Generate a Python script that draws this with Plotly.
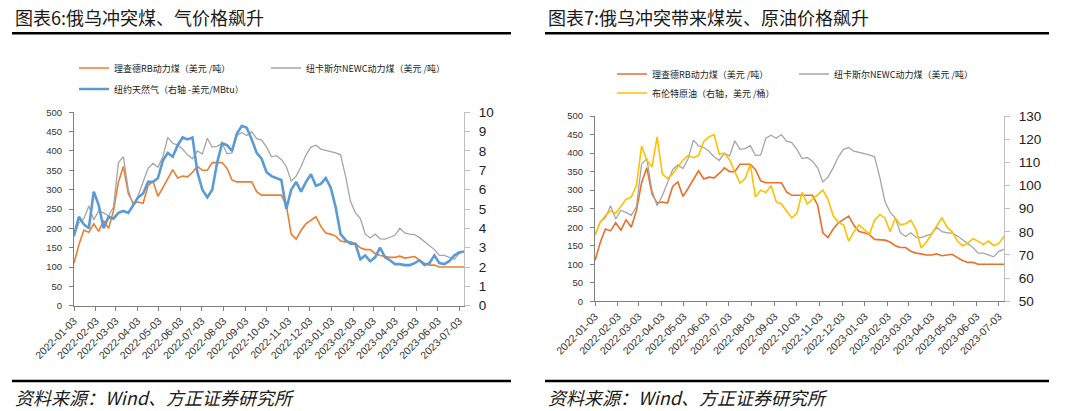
import pandas as pd
import plotly.graph_objects as go

# ---------------- data ----------------
dates = pd.date_range("2022-01-03", periods=80, freq="7D")
tick_dates = [d + pd.Timedelta(days=2) for d in pd.date_range("2022-01-01", "2023-07-01", freq="MS")]
tick_labels = [d.strftime("%Y-%m-%d") for d in tick_dates]

rb_coal = [110, 158, 195, 190, 212, 192, 220, 200, 245, 320,
           360, 290, 265, 268, 265, 310, 322, 283, 305, 330,
           352, 330, 335, 333, 345, 360, 350, 350, 370, 370,
           370, 355, 325, 320, 320, 320, 320, 295, 286, 286,
           286, 286, 286, 260, 185, 172, 195, 212, 220, 230,
           205, 188, 185, 180, 167, 165, 165, 160, 150, 145,
           145, 135, 130, 128, 125, 125, 128, 123, 125, 127,
           118, 110, 105, 105, 100, 100, 100, 100, 100, 100]

newc_coal = [178, 215, 225, 258, 222, 245, 240, 232, 255, 370,
             385, 300, 258, 285, 320, 355, 368, 358, 385, 435,
             420, 415, 405, 390, 380, 400, 392, 433, 410, 412,
             420, 393, 395, 440, 448, 440, 450, 432, 428, 410,
             385, 388, 378, 360, 322, 335, 360, 390, 410, 415,
             405, 402, 400, 395, 390, 335, 270, 240, 225, 185,
             175, 185, 173, 172, 177, 182, 200, 188, 185, 184,
             176, 166, 155, 145, 130, 130, 125, 120, 135, 140]

ny_gas = [3.65, 4.6, 4.2, 4.0, 5.9, 5.2, 4.0, 4.6, 4.5, 4.8,
          4.9, 4.8, 5.2, 5.6, 5.8, 6.4, 6.4, 6.6, 7.5, 7.9,
          7.7, 8.3, 8.7, 8.6, 8.7, 6.9, 6.0, 5.6, 6.0, 7.4,
          8.4, 8.3, 8.0, 8.9, 9.3, 9.2, 8.6, 7.9, 7.6, 6.9,
          6.7, 6.6, 6.5, 5.0, 6.0, 6.4, 5.9, 6.4, 6.8, 6.2,
          6.3, 6.6, 6.1, 5.1, 3.7, 3.4, 3.2, 3.2, 2.4, 2.6,
          2.3, 2.5, 3.0, 2.5, 2.35, 2.15, 2.15, 2.1, 2.1, 2.2,
          2.35, 2.1, 2.2, 2.6, 2.2, 2.15, 2.3, 2.6, 2.75, 2.8]

brent = [78.6, 84, 87, 89, 88, 91, 94, 95, 100, 117,
         111, 108, 121, 105, 103, 105, 108, 111, 113, 112,
         113, 119, 121, 122, 113.5, 114, 111, 106, 101, 103,
         109, 95, 98, 97, 100, 93, 92, 89, 86, 88,
         97, 92, 94, 96, 98, 94, 87, 84, 83, 76,
         80, 83, 81, 79, 85, 87.5, 86, 80, 86, 83,
         83.5, 85, 81, 73, 75.5, 79, 83, 86, 82, 80,
         76, 74, 75, 77, 76, 74.5, 76, 74, 75, 78]

name_rb = "理查德RB动力煤（美元 /吨）"
name_newc = "纽卡斯尔NEWC动力煤（美元 /吨）"
name_gas = "纽约天然气（右轴 -美元/MBtu）"
name_brent = "布伦特原油（右轴，美元 /桶）"

title_left = "图表6:俄乌冲突煤、气价格飙升"
title_right = "图表7:俄乌冲突带来煤炭、原油价格飙升"
source_text = "资料来源：Wind、方正证券研究所"

# ---------------- styling ----------------
W, H = 1069, 411
ORANGE = "#ED7D31"
GRAY = "#A5A5A5"
BLUE = "#5B9BD5"
YELLOW = "#FFC000"
CJK = "Noto Sans CJK SC"
LAT = "Liberation Sans"

def px_x(p):
    return p / W

def px_y(p):
    return 1 - p / H

fig = go.Figure()

# left chart
fig.add_trace(go.Scatter(x=dates, y=rb_coal, name=name_rb, mode="lines",
                         line=dict(color=ORANGE, width=1.6), xaxis="x", yaxis="y", legend="legend"))
fig.add_trace(go.Scatter(x=dates, y=newc_coal, name=name_newc, mode="lines",
                         line=dict(color=GRAY, width=1.3), xaxis="x", yaxis="y", legend="legend2"))
fig.add_trace(go.Scatter(x=dates, y=ny_gas, name=name_gas, mode="lines",
                         line=dict(color=BLUE, width=2.6), xaxis="x", yaxis="y2", legend="legend3"))
# right chart
fig.add_trace(go.Scatter(x=dates, y=rb_coal, name=name_rb, mode="lines",
                         line=dict(color="#E8702A", width=1.6), xaxis="x2", yaxis="y3", legend="legend4"))
fig.add_trace(go.Scatter(x=dates, y=newc_coal, name=name_newc, mode="lines",
                         line=dict(color=GRAY, width=1.3), xaxis="x2", yaxis="y3", legend="legend5"))
fig.add_trace(go.Scatter(x=dates, y=brent, name=name_brent, mode="lines",
                         line=dict(color=YELLOW, width=1.6), xaxis="x2", yaxis="y4", legend="legend6"))

xr = ["2022-01-03", "2023-07-10"]
xcommon = dict(type="date", range=xr, tickmode="array", tickvals=tick_dates, ticktext=tick_labels,
               tickangle=-45, tickfont=dict(family=LAT, size=10.5, color="#333333"),
               showline=True, linecolor="#7F7F7F", linewidth=1, ticks="outside", ticklen=4,
               tickcolor="#7F7F7F", showgrid=False, zeroline=False, fixedrange=True,
               automargin=False)
yleft = dict(range=[0, 500], dtick=50, tickfont=dict(family=LAT, size=9.5, color="#333333"),
             showline=True, linecolor="#7F7F7F", linewidth=1, ticks="outside", ticklen=4,
             tickcolor="#7F7F7F", showgrid=False, zeroline=False, ticklabelstandoff=5,
             automargin=False)
yright_font = dict(family=LAT, size=13.5, color="#222222")

ldom = [px_y(305.7), px_y(112.3)]
rdom = [px_y(301.3), px_y(116)]

fig.update_layout(
    width=W, height=H, autosize=False,
    margin=dict(l=0, r=0, t=0, b=0),
    paper_bgcolor="white", plot_bgcolor="white",
    xaxis=dict(domain=[px_x(74), px_x(464)], anchor="y", **xcommon),
    xaxis2=dict(domain=[px_x(595), px_x(1004)], anchor="y3", **xcommon),
    yaxis=dict(domain=ldom, anchor="x", **yleft),
    yaxis2=dict(domain=ldom, anchor="x", overlaying="y", side="right", range=[0, 10], dtick=1,
                tickfont=yright_font, showline=True, linecolor="#BFBFBF", linewidth=1,
                ticks="outside", ticklen=5, tickcolor="#BFBFBF", showgrid=False, zeroline=False,
                ticklabelstandoff=6, automargin=False),
    yaxis3=dict(domain=rdom, anchor="x2", **yleft),
    yaxis4=dict(domain=rdom, anchor="x2", overlaying="y3", side="right", range=[50, 130], dtick=10,
                tickfont=yright_font, showline=True, linecolor="#BFBFBF", linewidth=1,
                ticks="outside", ticklen=5, tickcolor="#BFBFBF", showgrid=False, zeroline=False,
                ticklabelstandoff=6, automargin=False),
    showlegend=True,
)

leg_font = dict(family=CJK, size=9, color="#222222")
def leg(xp, yp):
    return dict(x=px_x(xp), y=px_y(yp), xanchor="left", yanchor="middle", orientation="h",
                font=leg_font, bgcolor="rgba(0,0,0,0)", itemwidth=30, tracegroupgap=0)

fig.update_layout(
    legend=leg(74, 68), legend2=leg(266, 68), legend3=leg(74, 89),
    legend4=leg(612, 74), legend5=leg(794, 74), legend6=leg(612, 93),
)

# titles, rules, source
annos = []
shapes = []
for x0, x1, title in [(12, 511, title_left), (545, 1049, title_right)]:
    annos.append(dict(text=title, x=px_x(x0 + 1), y=px_y(17), xref="paper", yref="paper",
                      xanchor="left", yanchor="middle", showarrow=False,
                      font=dict(family=CJK, size=18, color="#1a1a1a")))
    annos.append(dict(text=source_text, x=px_x(x0 + 1), y=px_y(397), xref="paper", yref="paper",
                      xanchor="left", yanchor="middle", showarrow=False,
                      font=dict(family=CJK, size=18, color="#1a1a1a", style="italic")))
    shapes.append(dict(type="line", xref="paper", yref="paper", x0=px_x(x0), x1=px_x(x1),
                       y0=px_y(33.3), y1=px_y(33.3), line=dict(color="black", width=2.5)))
    shapes.append(dict(type="line", xref="paper", yref="paper", x0=px_x(x0), x1=px_x(x1),
                       y0=px_y(381), y1=px_y(381), line=dict(color="black", width=2.5)))
fig.update_layout(annotations=annos, shapes=shapes)

fig.write_html("out.html", config={"displayModeBar": False},
               post_script="document.body.style.margin='0';")
